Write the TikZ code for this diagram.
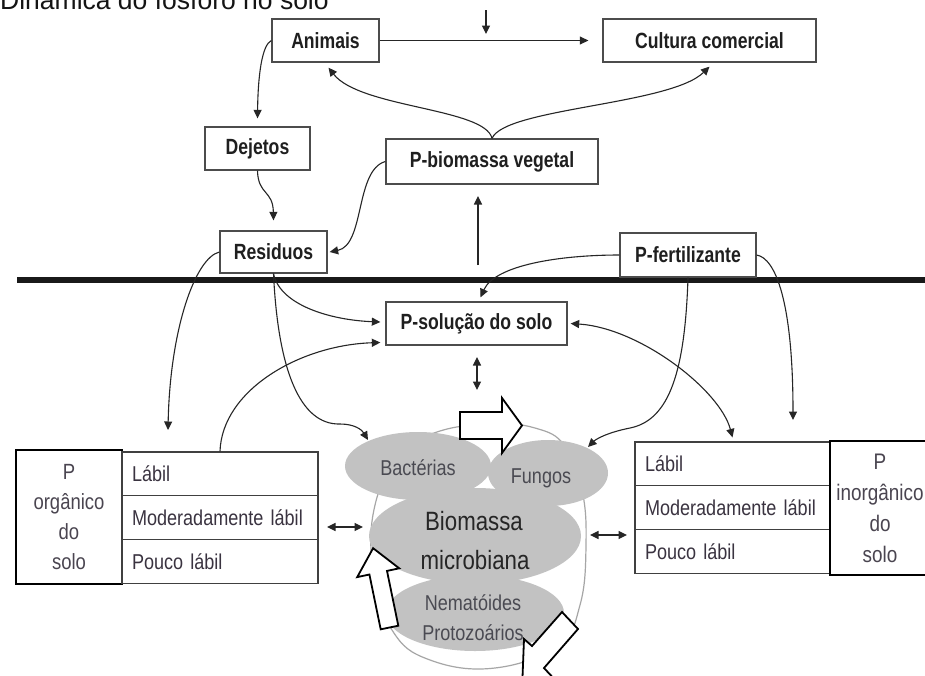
\documentclass[tikz,border=0pt]{standalone}
\usepackage{fontspec}
\setmainfont{Liberation Sans}
\newfontfamily\narrowfont[FakeStretch=0.84,WordSpace=0.7]{Liberation Sans}
\newfontfamily\boxfont[FakeStretch=0.8]{Liberation Sans}
\usetikzlibrary{arrows.meta,shapes.geometric}
\definecolor{ellgray}{HTML}{C2C2C2}
\definecolor{rowtext}{HTML}{3A3340}
\definecolor{ptext}{HTML}{4A4550}
\definecolor{lbltext}{HTML}{4A4A52}
\tikzset{
 box/.style={draw=black!70, line width=1.3pt, fill=white, inner sep=0pt, font=\boxfont\fontsize{22}{24}\selectfont\bfseries, text=black!88},
 conn/.style={draw=black!85, line width=1.1pt, -{Triangle[length=8.5pt,width=8pt]}},
 dconn/.style={draw=black!85, line width=1.1pt, {Triangle[length=8.5pt,width=8pt]}-{Triangle[length=8.5pt,width=8pt]}},
 rowbox/.style={draw=black!75, line width=1.1pt, fill=white, minimum height=43.7pt, inner xsep=10pt, inner ysep=0pt, align=left, font=\narrowfont\fontsize{21.5}{24}\selectfont, text=rowtext},
 pbox/.style={draw=black, line width=2pt, fill=white, inner sep=0pt, align=center, text=ptext},
 ell/.style={ellipse, fill=ellgray, draw=none, inner sep=0pt},
 lbl/.style={font=\narrowfont\fontsize{21.5}{24}\selectfont, text=lbltext, inner sep=0pt},
 bigl/.style={font=\narrowfont\fontsize{26.5}{30}\selectfont, text=black!85, inner sep=0pt},
 blockarrow/.style={draw=black, line width=1.8pt, fill=white, line join=miter},
}
\begin{document}
\begin{tikzpicture}[x=1pt,y=-1pt]
\useasboundingbox (0,0) rectangle (925,675);
\clip (0,0) rectangle (925,675);
\fill[white] (0,0) rectangle (925,675);

% title (cut at top, as in the reference)
\node[anchor=base west, inner sep=0pt, font=\fontsize{26.5}{30}\selectfont, text=black!92] (title) at (0,9) {Dinâmica do fósforo no solo};

% soil surface line
\coordinate (soilL) at (17,280);
\coordinate (soilR) at (925,280);
\draw[line width=6pt, black!90] (soilL) -- (soilR);

% boxes
\node[box, minimum width=107pt, minimum height=43pt] (animais) at (325.5,40.5) {Animais};
\node[box, minimum width=213pt, minimum height=43pt] (cultura) at (709.5,40.5) {Cultura comercial};
\node[box, minimum width=105pt, minimum height=43pt] (dejetos) at (257.5,148.5) {Dejetos};
\node[box, minimum width=212pt, minimum height=45pt] (pbio) at (492,161.5) {P-biomassa vegetal};
\node[box, minimum width=107pt, minimum height=42pt] (residuos) at (273.5,252) {Residuos};
\node[box, minimum width=136pt, minimum height=44pt] (pfert) at (688,255) {P-fertilizante};
\node[box, minimum width=181pt, minimum height=43pt] (psol) at (476.5,323.5) {P-solução do solo};

% left table
\node[pbox, minimum width=106pt, minimum height=134pt, font=\narrowfont\fontsize{22}{30}\selectfont] (orgbox) at (69,517) {P\\orgânico\\do\\solo};
\node[rowbox, text width=176pt] (olab1) at (220,473.8) {Lábil};
\node[rowbox, text width=176pt] (olab2) at (220,517.5) {Moderadamente lábil};
\node[rowbox, text width=176pt] (olab3) at (220,561.2) {Pouco lábil};

% right table
\node[rowbox, text width=175pt] (ilab1) at (732.5,463.8) {Lábil};
\node[rowbox, text width=175pt] (ilab2) at (732.5,507.5) {Moderadamente lábil};
\node[rowbox, text width=175pt] (ilab3) at (732.5,551.2) {Pouco lábil};
\node[pbox, minimum width=100pt, minimum height=134pt, font=\narrowfont\fontsize{22.5}{31}\selectfont] (inorgbox) at (880,508) {P\\inorgânico\\do\\solo};

% microbial biomass
\draw[gray!70, line width=1.2pt] plot[smooth cycle, tension=0.7] coordinates {(437,432) (490,424) (535,428) (565,446) (582,490) (586,545) (580,605) (558,645) (495,668) (430,660) (392,630) (373,570) (375,505) (400,455)};
\node[ell, minimum width=146pt, minimum height=68pt] (bact) at (418,466) {};
\node[ell, minimum width=120pt, minimum height=66pt] (fung) at (548,473) {};
\node[ell, minimum width=212pt, minimum height=96pt] (biom) at (475,536) {};
\node[ell, minimum width=178pt, minimum height=76pt] (nema) at (475,613) {};
\node[lbl] (lbact) at (418,468) {Bactérias};
\node[lbl] (lfung) at (541,478) {Fungos};
\node[bigl] (lbio1) at (474,521) {Biomassa};
\node[bigl] (lbio2) at (475,560) {microbiana};
\node[lbl] (lnem1) at (473,603) {Nematóides};
\node[lbl] (lnem2) at (473,633) {Protozoários};

% block arrows
\draw[blockarrow] (460,412) -- (502,412) -- (502,398) -- (522,425.5) -- (502,453) -- (502,439) -- (460,439) -- cycle;
\draw[blockarrow] (380.7,629.3) -- (369.4,574.5) -- (357.2,577.1) -- (373.1,548.2) -- (399.2,568.3) -- (387.0,570.9) -- (398.3,625.7) -- cycle;
\draw[blockarrow] (562,612) -- (532,646) -- (524,639) -- (522,690) -- (558,683) -- (544,668) -- (578,629) -- cycle;

% free ends
\coordinate (topstart) at (486,10);
\coordinate (topend) at (486,34);
\coordinate (vstart) at (478,265);
\coordinate (vend) at (478,196);
\coordinate (orgtip) at (168,430);
\coordinate (bactip) at (368,440);
\coordinate (fungtip) at (588,447);
\coordinate (inorgtip) at (793,420);
\coordinate (dv1) at (477,357);
\coordinate (dv2) at (477,390);
\coordinate (dl1) at (327,527);
\coordinate (dl2) at (363,527);
\coordinate (dr1) at (590,535);
\coordinate (dr2) at (627,535);

% connectors
\draw[conn] (topstart) -- (topend);
\draw[conn] (animais.east) -- ([xshift=-14pt]cultura.west);
\draw[conn] (animais.west) .. controls (262,45) and (258,75) .. ([yshift=8pt]dejetos.north);
\draw[conn] (pbio.north) .. controls (485,108) and (360,108) .. ([xshift=3pt,yshift=-5pt]animais.south);
\draw[conn] (pbio.north) .. controls (505,108) and (670,105) .. ([yshift=-4pt]cultura.south);
\draw[conn] (dejetos.south) .. controls (258,195) and (273,190) .. ([yshift=10pt]residuos.north);
\draw[conn] (pbio.west) .. controls (355,170) and (365,245) .. ([xshift=2pt]residuos.east);
\draw[conn] (vstart) -- (vend);
\draw[conn] (pfert.west) .. controls (560,255) and (495,265) .. ([xshift=4pt,yshift=4pt]psol.north);
\draw[conn] (residuos.south) .. controls (280,305) and (330,320) .. ([xshift=-5pt,yshift=1.5pt]psol.west);
\draw[conn] (residuos.west) .. controls (195,258) and (170,330) .. (orgtip);
\draw[conn] (residuos.south) .. controls (278,370) and (300,425) .. (340,424) .. controls (355,424) and (362,430) .. (bactip);
\draw[conn] (olab1.north) .. controls (222,390) and (300,345) .. ([xshift=-5pt,yshift=-19pt]psol.west);
\draw[dconn] (dv1) -- (dv2);
\draw[conn] (pfert.south) .. controls (685,370) and (670,420) .. (630,428) .. controls (605,433) and (595,440) .. (fungtip);
\draw[dconn] ([xshift=3pt]psol.east) .. controls (640,328) and (720,390) .. ([yshift=4pt]ilab1.north);
\draw[conn] (pfert.east) .. controls (775,258) and (793,300) .. (inorgtip);
\draw[dconn] (dl1) -- (dl2);
\draw[dconn] (dr1) -- (dr2);
\end{tikzpicture}
\end{document}
